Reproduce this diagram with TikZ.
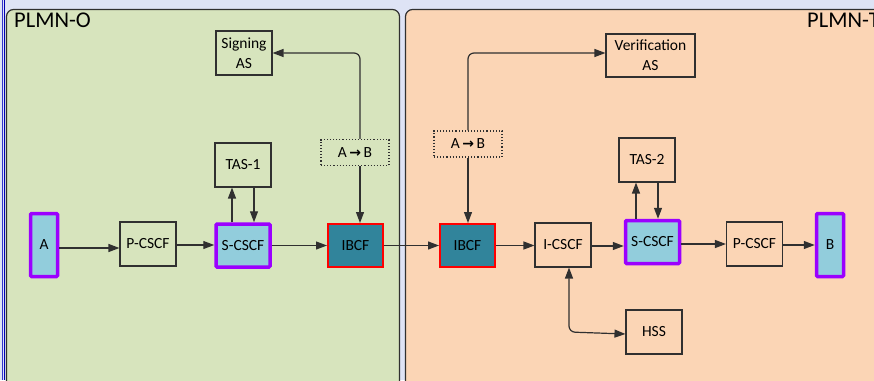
\documentclass[tikz,border=0pt]{standalone}
\usepackage{fontspec}
\setmainfont{Carlito}
\newfontfamily\djv{DejaVu Sans}
\usetikzlibrary{arrows.meta,calc}
\definecolor{bglav}{HTML}{DEE3F5}
\definecolor{pgreen}{HTML}{D7E4BD}
\definecolor{ppeach}{HTML}{FBD5B5}
\definecolor{edgegray}{HTML}{303030}
\definecolor{ltblue}{HTML}{92CDDC}
\definecolor{teal2}{HTML}{31849B}
\definecolor{purp}{HTML}{9B00FF}
\tikzset{
  box/.style={draw=edgegray, line width=1.1pt, minimum width=56pt, minimum height=44pt, inner sep=1pt, align=center, font=\fontsize{15.5}{20}\selectfont},
  ue/.style={box, fill=ltblue, draw=purp, line width=3.5pt, minimum width=27pt, minimum height=63pt, rounded corners=1pt},
  scscf/.style={box, fill=ltblue, draw=purp, line width=3.5pt, minimum width=54pt, minimum height=43pt, rounded corners=1pt},
  ibcf/.style={box, fill=teal2, draw=red, line width=2pt, minimum width=55pt, minimum height=43pt},
  abbox/.style={box, draw=edgegray, dotted, line width=1.1pt, minimum width=68pt, minimum height=26pt},
  tip/.tip={Triangle[length=11pt,width=8pt]},
  arr/.style={draw=edgegray, line width=1.2pt, -tip},
  darr/.style={draw=edgegray, line width=1.2pt, tip-tip, rounded corners=6pt},
  panel/.style={draw=edgegray, line width=1.2pt, rounded corners=7pt},
  ptitle/.style={font=\fontsize{22.5}{24}\selectfont, inner sep=0pt}
}
\newcommand{\abarrow}{A\,{\djv\bfseries\fontsize{14}{15}\selectfont →}\,B}
\begin{document}
\begin{tikzpicture}[x=1pt,y=-1pt]
\useasboundingbox (0,0) rectangle (874,380);
\clip (0,0) rectangle (874,380);
\fill[bglav] (0,0) rectangle (874,380);
% left edge strips
\draw[blue!60!gray, line width=1pt] (2.5,0) -- (2.5,380);
\draw[blue!70!black, line width=1pt] (4.5,0) -- (4.5,380);
% panels
\draw[panel, fill=pgreen] (6.5,400) -- (6.5,9.5) -- (399.5,9.5) -- (399.5,400);
\draw[panel, fill=ppeach] (405.5,400) -- (405.5,9.5) -- (900,9.5) -- (900,400);
\node[ptitle, anchor=north west] (plmno) at (14,13) {PLMN-O};
\node[ptitle, anchor=north west] (plmnt) at (807,13) {PLMN-T};

% upper nodes
\node[box] (sigAS) at (244,53) {Signing\\AS};
\node[box] (tas1) at (243,165) {TAS-1};
\node[box, minimum width=89pt, minimum height=43pt] (verAS) at (650.5,55.5) {Verification\\AS};
\node[box] (tas2) at (647,160) {TAS-2};

% main row
\node[ue] (A) at (44,245) {A};
\node[box] (pcscf1) at (148,244) {P-CSCF};
\node[scscf] (scscf1) at (243,245.5) {S-CSCF};
\node[ibcf] (ibcf1) at (355.5,245.5) {IBCF};
\node[ibcf] (ibcf2) at (467.5,245.5) {IBCF};
\node[box] (icscf) at (563,245) {I-CSCF};
\node[scscf] (scscf2) at (652.5,242) {S-CSCF};
\node[box] (pcscf2) at (754.5,244) {P-CSCF};
\node[ue] (B) at (830,245) {B};
\node[box] (hss) at (654,332) {HSS};

% A->B boxes
\node[abbox, fill=pgreen] (ab1) at (355,152.5) {\abarrow};
\node[abbox, fill=ppeach] (ab2) at (468,144) {\abarrow};

% main row arrows
\draw[arr] ([yshift=-3pt]A.east) -- ([yshift=-3pt]A.east -| pcscf1.west);
\draw[arr] ([yshift=-1pt]pcscf1.east) -- ([yshift=-1pt]pcscf1.east -| scscf1.west);
\draw[arr] (scscf1.east) -- (scscf1.east -| ibcf1.west);
\draw[arr] (ibcf1.east) -- (ibcf1.east -| ibcf2.west);
\draw[arr] (ibcf2.east) -- (ibcf2.east -| icscf.west);
\draw[arr] ([yshift=-1pt]icscf.east) -- ([yshift=-1pt]icscf.east -| scscf2.west);
\draw[arr] ([yshift=-2pt]scscf2.east) -- ([yshift=-2pt]scscf2.east -| pcscf2.west);
\draw[arr] ([yshift=-1pt]pcscf2.east) -- ([yshift=-1pt]pcscf2.east -| B.west);

% TAS arrows
\draw[arr] ([xshift=-11pt]scscf1.north) -- ([xshift=-11pt]scscf1.north |- tas1.south);
\draw[arr] ([xshift=11pt]scscf1.north |- tas1.south) -- ([xshift=11pt]scscf1.north);
\draw[arr] ([xshift=-16.5pt]scscf2.north) -- ([xshift=-16.5pt]scscf2.north |- tas2.south);
\draw[arr] ([xshift=5.5pt]scscf2.north |- tas2.south) -- ([xshift=5.5pt]scscf2.north);

% signing / verification
\draw[arr] ([xshift=5pt]ab1.south) -- ([xshift=5pt]ab1.south |- ibcf1.north);
\draw[arr, rounded corners=6pt] ([xshift=5pt]ab1.north) -- ([xshift=5pt]ab1.north |- sigAS.east) -- (sigAS.east);
\draw[arr] (ab2.south) -- (ab2.south |- ibcf2.north);
\draw[arr, rounded corners=6pt] (ab2.north) -- (ab2.north |- 0,53) -- (verAS.west |- 0,53);

% I-CSCF <-> HSS
\draw[darr] ([xshift=6pt]icscf.south) -- ([xshift=6pt]icscf.south |- hss.west) -- ([yshift=-2pt]hss.west);
\end{tikzpicture}
\end{document}
